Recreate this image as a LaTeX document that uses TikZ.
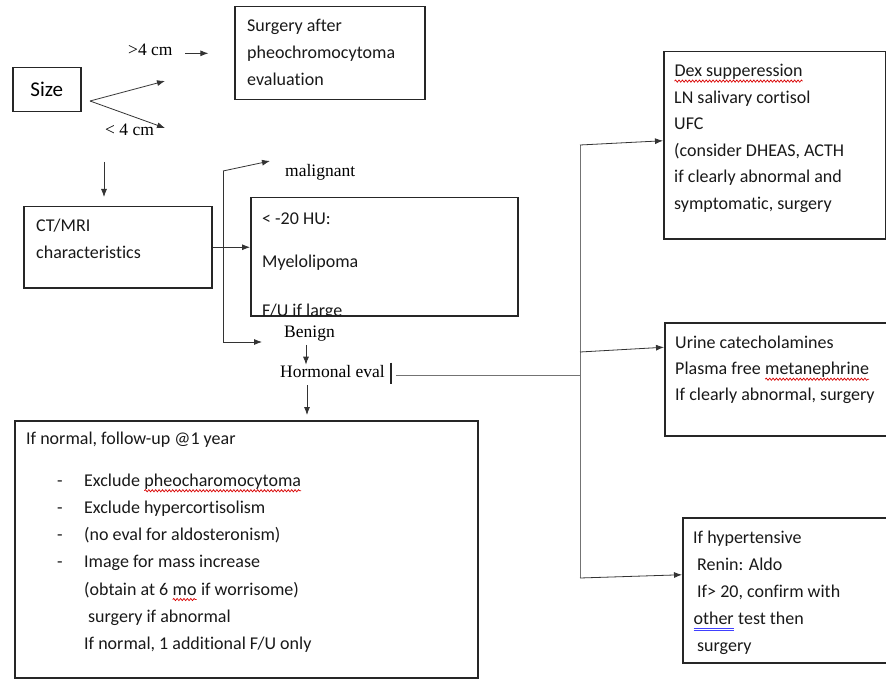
\documentclass[tikz,border=0pt]{standalone}
\usepackage{fontspec}
\setmainfont{Carlito}[Ligatures=NoCommon]
\newfontfamily\serifface{Liberation Serif}
\usetikzlibrary{arrows.meta,positioning,calc,decorations.pathmorphing}
\tikzset{>={Latex[length=8pt,width=6pt]}}
\tikzset{
  box/.style={draw=black!85, line width=1.5pt, inner sep=0, anchor=north west},
  boxtext/.style={inner sep=0, anchor=north west, align=left, text=black!90, font=\fontsize{18}{#1}\selectfont},
  lbl/.style={inner sep=0, anchor=base west, font=\serifface\fontsize{17.5}{20}\selectfont},
  link/.style={draw=black!80, line width=0.8pt},
  spine/.style={draw=black!55, line width=0.9pt}
}
\newcommand*{\spell}[1]{\tikz[baseline=(w.base),x=1cm,y=1cm]{\node[inner sep=0,outer sep=0,anchor=base west] (w) at (0,0) {#1};
  \draw[red!85!black, line width=0.7pt, decorate, decoration={snake,amplitude=1.1pt,segment length=3.4pt}] ([yshift=-4.5pt]w.base west) -- ([yshift=-4.5pt]w.base east);}}
\newcommand*{\gram}[1]{\tikz[baseline=(w.base),x=1cm,y=1cm]{\node[inner sep=0,outer sep=0,anchor=base west] (w) at (0,0) {#1};
  \draw[blue!75, line width=0.7pt] ([yshift=-3.5pt]w.base west) -- ([yshift=-3.5pt]w.base east)
    ([yshift=-5.5pt]w.base west) -- ([yshift=-5.5pt]w.base east);}}

\begin{document}
\begin{tikzpicture}[x=1pt,y=-1pt]
\fill[white] (0,0) rectangle (886,679);
\useasboundingbox (0,0) rectangle (886,679);
% boxes
\node[box, minimum width=68pt, minimum height=44pt, font=\fontsize{21}{24}\selectfont] (size) at (12,67) {Size};
\node[box, minimum width=190pt, minimum height=93pt] (surg) at (234,6) {};
\node[box, minimum width=188pt, minimum height=81pt] (ctmri) at (23,206) {};
\node[box, minimum width=267pt, minimum height=118pt] (myelo) at (250,197) {};
\node[box, minimum width=463pt, minimum height=257pt] (fu) at (14,420) {};
\node[box, minimum width=222pt, minimum height=187pt] (dex) at (663,51) {};
\node[box, minimum width=230pt, minimum height=113pt] (urine) at (664,322) {};
\node[box, minimum width=212pt, minimum height=145pt] (hyp) at (682,517) {};
% box texts
\node[boxtext=27] (surgtxt) at (247,19) {Surgery after\\pheochromocytoma\\evaluation};
\node[boxtext=27] (ctmritxt) at (36,219) {CT/MRI\\characteristics};
\begin{scope}
\clip (myelo.north west) rectangle ([yshift=1.5pt]myelo.south east);
\node[boxtext=43] (myelotxt) at (262,213) {< -20 HU:\\Myelolipoma\\[5.5pt]F/U if large};
\end{scope}
\node[boxtext=27] (futitle) at (26,432) {If normal, follow-up @1 year};
\node[boxtext=27.2] (fulist) at (57,467) {\begin{tabular}{@{}p{27pt}@{}l@{}}
- & Exclude \spell{pheocharomocytoma}\\
- & Exclude hypercortisolism\\
- & (no eval for aldosteronism)\\
- & Image for mass increase\\
  & (obtain at 6 \spell{mo} if worrisome)\\
  & \hspace*{4pt}surgery if abnormal\\
  & If normal, 1 additional F/U only
\end{tabular}};
\node[boxtext=26.5] (dextxt) at (674,64) {\spell{Dex supperession}\\LN salivary cortisol\\UFC\\(consider DHEAS, ACTH\\if clearly abnormal and\\symptomatic, surgery};
\node[boxtext=26] (urinetxt) at (675,336) {Urine catecholamines\\Plasma free \spell{metanephrine}\\If clearly abnormal, surgery};
\node[boxtext=27] (hyptxt) at (693,531) {If hypertensive\\\hspace*{4pt}Renin: Aldo\\\hspace*{4pt}If> 20, confirm with\\\gram{other} test then\\\hspace*{4pt}surgery};
% branch labels
\node[lbl] (gt4) at (128,56) {>4 cm};
\node[lbl] (lt4) at (105,136) {< 4 cm};
\node[lbl] (malig) at (285,177) {malignant};
\node[lbl] (benign) at (284,337) {Benign};
\node[lbl] (horm) at (280,377) {Hormonal eval};
% connectors
\coordinate (fork) at (90,101);
\coordinate (up) at (165,81);
\coordinate (down) at (165,128);
\coordinate (ctin) at (104,162);
\coordinate (brtop) at (223,171);
\coordinate (brbot) at (223,342);
\coordinate (maltip) at (270,161);
\coordinate (spinetop) at (580,145);
\coordinate (spinemid) at (580,352);
\coordinate (spinebot) at (580,578);
\draw[link,->] (fork) -- (up);
\draw[link,->] (fork) -- (down);
\draw[link,->] ([xshift=12.6pt,yshift=-3pt]gt4.east) -- ++(23,0);
\draw[link,->] (ctin) -- ([yshift=9pt]ctin |- ctmri.north);
\draw[link,->] (ctmri.east) -- (ctmri.east -| myelo.west);
\draw[link] (brtop) -- (brbot);
\draw[link,->] (brtop) -- (maltip);
\draw[link,->] (brbot) -- ([xshift=-22pt]benign.west |- brbot);
\draw[link,->] ([xshift=22pt,yshift=-4pt]benign.south west) -- ([xshift=22pt]benign.south west |- horm.north);
\draw[link,->] ([xshift=27pt,yshift=-8pt]horm.south west) -- ([xshift=27pt,yshift=5pt]horm.south west |- fu.north);
\draw[line width=1.6pt, black!85] ([xshift=6pt,yshift=2pt]horm.north east) -- ([xshift=6pt,yshift=-7pt]horm.south east);
\draw[spine] ([xshift=11pt,yshift=-4pt]horm.east) -- ([yshift=-4pt]horm.east -| spinetop);
\draw[spine] (spinetop) -- (spinebot);
\draw[link,->] (spinetop) -- ([yshift=4.5pt]dex.west);
\draw[link,->] (spinemid) -- ([yshift=32pt]urine.west);
\draw[link,->] (spinebot) -- ([yshift=15.5pt]hyp.west);
\end{tikzpicture}
\end{document}
